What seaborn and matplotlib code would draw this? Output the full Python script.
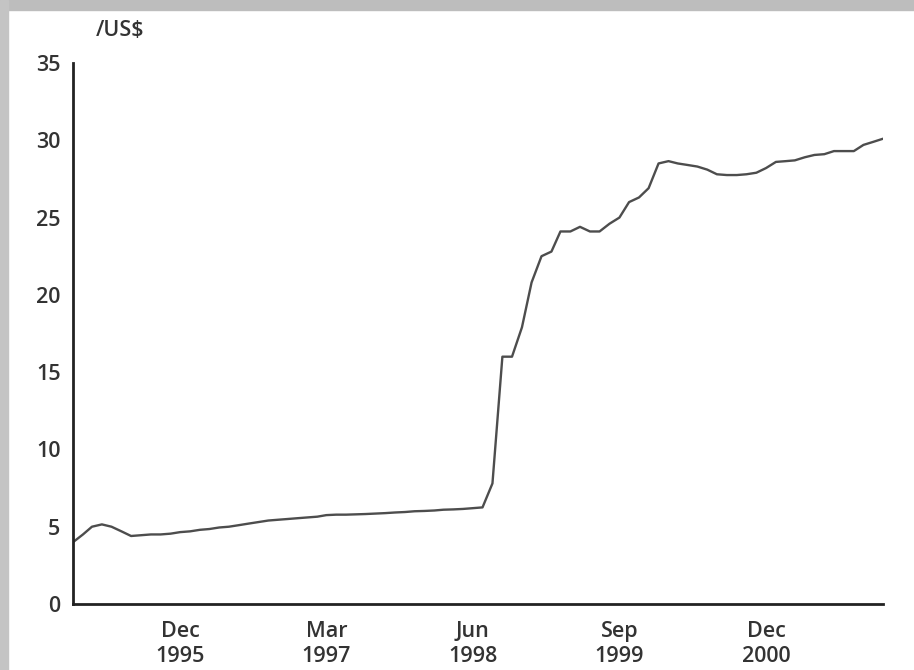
import pandas as pd
import matplotlib.pyplot as plt
import matplotlib.patches as mpatches
import seaborn as sns

# Rublos por US$, mensal, jan 1995 - dez 2001
months = pd.date_range("1995-01-01", "2001-12-01", freq="MS")
rate_1995 = [4.0, 4.5, 5.0, 5.15, 5.0, 4.7, 4.4, 4.45, 4.5, 4.5, 4.55, 4.65]
rate_1996 = [4.7, 4.8, 4.85, 4.95, 5.0, 5.1, 5.2, 5.3, 5.4, 5.45, 5.5, 5.55]
rate_1997 = [5.6, 5.65, 5.75, 5.78, 5.78, 5.8, 5.82, 5.85, 5.88, 5.92, 5.95, 6.0]
rate_1998 = [6.02, 6.05, 6.1, 6.12, 6.15, 6.2, 6.25, 7.8, 16.0, 16.0, 17.9, 20.8]
rate_1999 = [22.5, 22.8, 24.1, 24.1, 24.4, 24.1, 24.1, 24.6, 25.0, 26.0, 26.3, 26.9]
rate_2000 = [28.5, 28.65, 28.5, 28.4, 28.3, 28.1, 27.8, 27.75, 27.75, 27.8, 27.9, 28.2]
rate_2001 = [28.6, 28.65, 28.7, 28.9, 29.05, 29.1, 29.3, 29.3, 29.3, 29.7, 29.9, 30.1]

tick_dates = ["1995-12-01", "1997-03-01", "1998-06-01", "1999-09-01", "2000-12-01"]
tick_labels = ["Dec\n1995", "Mar\n1997", "Jun\n1998", "Sep\n1999", "Dec\n2000"]
y_ticks = [0, 5, 10, 15, 20, 25, 30, 35]

rates = rate_1995 + rate_1996 + rate_1997 + rate_1998 + rate_1999 + rate_2000 + rate_2001
df = pd.DataFrame({"month": months, "rate": rates})

sns.set_style("white")
plt.rcParams['font.family'] = ['Open Sans', 'DejaVu Sans']
text_color = "#333333"

fig = plt.figure(figsize=(9.14, 6.7), dpi=100)
ax = fig.add_axes([0.0799, 0.0985, 0.8862, 0.8075])

sns.lineplot(data=df, x="month", y="rate", ax=ax, color="#4d4d4d", linewidth=1.7)

ax.set_xlim(pd.Timestamp("1995-01-01"), pd.Timestamp("2001-12-01"))
ax.set_ylim(0, 35)
ax.set_yticks(y_ticks)
ax.set_xticks(pd.to_datetime(tick_dates))
ax.set_xticklabels(tick_labels)
ax.set_xlabel("")
ax.set_ylabel("")

for side in ["top", "right"]:
    ax.spines[side].set_visible(False)
for side in ["left", "bottom"]:
    ax.spines[side].set_color("#222222")
    ax.spines[side].set_linewidth(2)

ax.tick_params(axis="both", direction="out", length=7, width=2, color="#222222",
               labelsize=15.5, labelcolor=text_color, pad=2)
ax.tick_params(axis="x", pad=5)
for lbl in ax.get_xticklabels():
    lbl.set_linespacing(1.3)
    lbl.set_fontweight("semibold")
for lbl in ax.get_yticklabels():
    lbl.set_fontweight("semibold")

fig.text(0.105, 0.955, "/US$", fontsize=15.5, color=text_color, ha="left", va="center",
         fontweight="semibold")

# moldura cinza da captura
fig.patches.append(mpatches.Rectangle((0, 1 - 10 / 670), 1, 10 / 670, transform=fig.transFigure,
                                      color="#bdbdbd", zorder=0))
fig.patches.append(mpatches.Rectangle((0, 0), 8 / 914, 1, transform=fig.transFigure,
                                      color="#c4c4c4", zorder=0))

plt.savefig("out.png", dpi=100)
plt.close()
